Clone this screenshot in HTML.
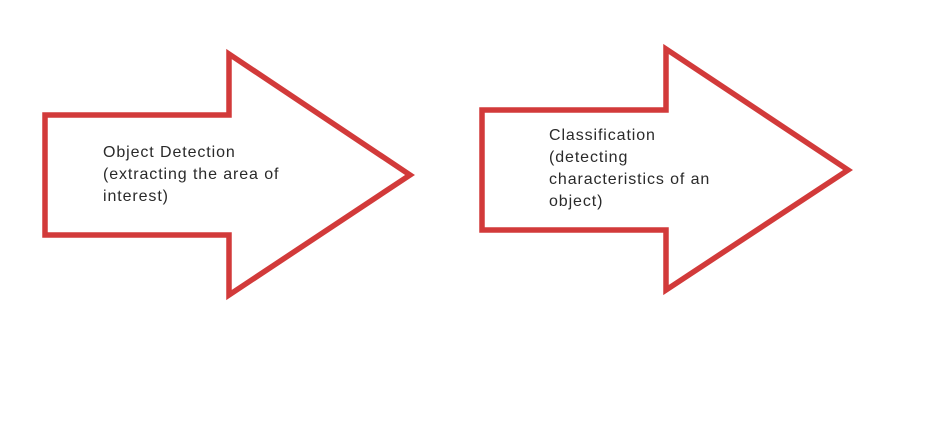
<!DOCTYPE html>
<html><head><style>
html,body{margin:0;padding:0;background:#fff;width:936px;height:422px;overflow:hidden}
svg{position:absolute;left:0;top:0}
.t{position:absolute;font-family:"Liberation Sans",sans-serif;font-size:16px;letter-spacing:0.9px;line-height:22px;color:#2a2a2a}
</style></head><body>
<svg width="936" height="422">
<polygon points="45,115 229,115 229,54 410,175 229,295 229,235 45,235" fill="#fff" stroke="#d23a3a" stroke-width="5.5" stroke-linejoin="miter"/>
<polygon points="482,110 666,110 666,49 848,170 666,290 666,230 482,230" fill="#fff" stroke="#d23a3a" stroke-width="5.5" stroke-linejoin="miter"/>
</svg>
<div class="t" style="left:103px;top:142px">Object Detection<br>(extracting the area of<br>interest)</div>
<div class="t" style="left:549px;top:125px">Classification<br>(detecting<br>characteristics of an<br>object)</div>
</body></html>
